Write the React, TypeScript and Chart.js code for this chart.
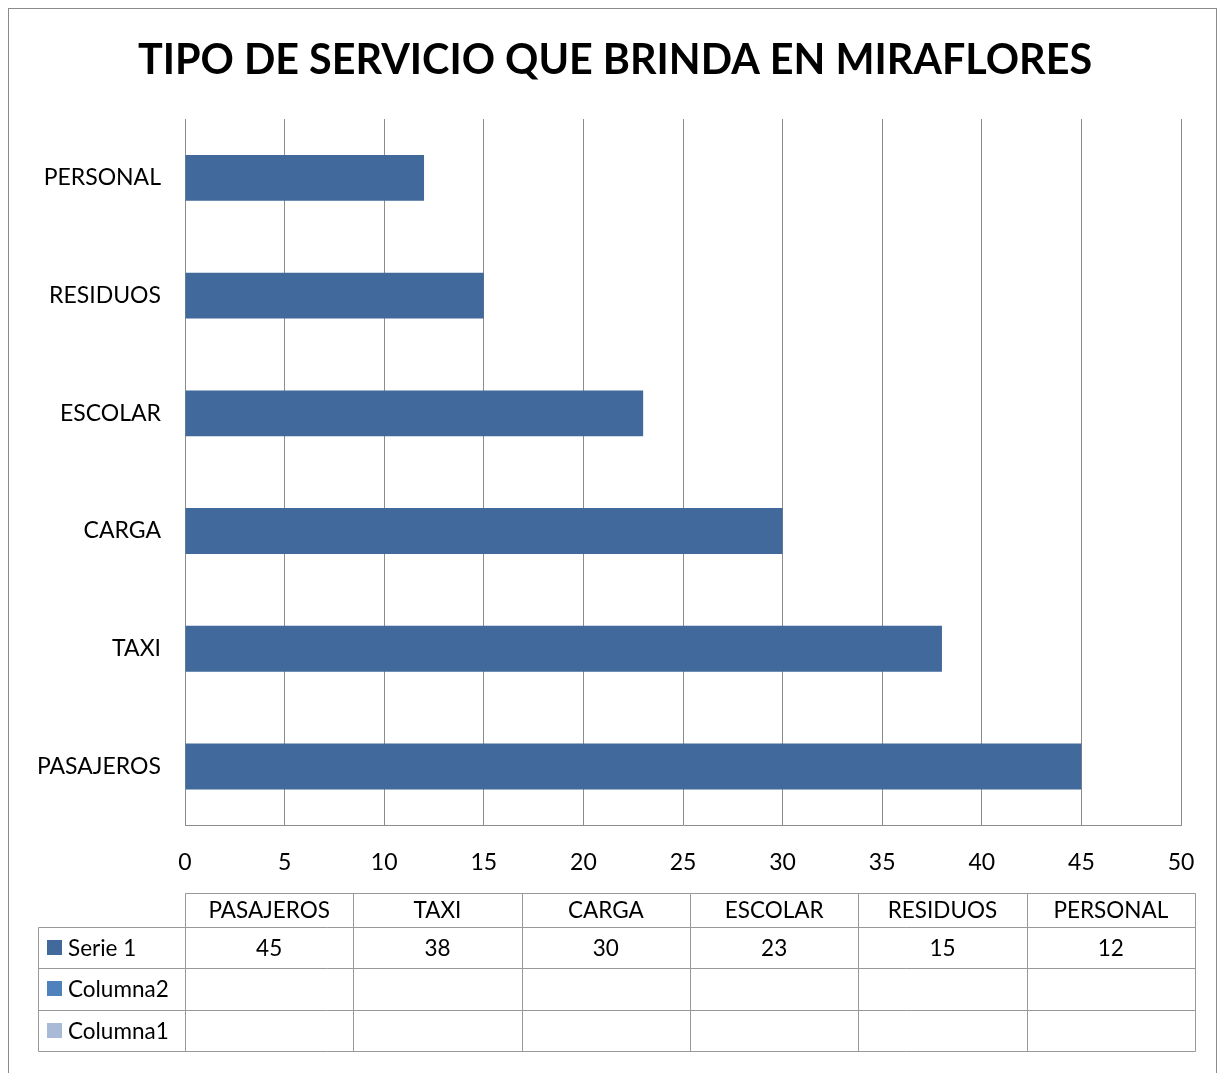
import React, { useEffect, useRef } from "react";
import { Chart, registerables } from "chart.js";

Chart.register(...registerables);

const titleText = "TIPO DE SERVICIO QUE BRINDA EN MIRAFLORES";
const categories = ["PASAJEROS", "TAXI", "CARGA", "ESCOLAR", "RESIDUOS", "PERSONAL"];
const serie1 = [45, 38, 30, 23, 15, 12];
const seriesNames = ["Serie 1", "Columna2", "Columna1"];
const seriesValues: (number | null)[][] = [serie1, [null, null, null, null, null, null], [null, null, null, null, null, null]];
const seriesColors = ["#41699B", "#4F81BD", "#A9BAD7"];
const xMin = 0;
const xMax = 50;
const xStep = 5;

const FONT = "Lato, 'Open Sans', sans-serif";
const GRID = "#8C8C8C";

const framePlugin = {
  id: "frame",
  beforeDraw(chart: any) {
    const ctx = chart.ctx;
    ctx.save();
    ctx.fillStyle = "#ffffff";
    ctx.fillRect(0, 0, chart.width, chart.height);
    ctx.strokeStyle = "#8A8A8A";
    ctx.lineWidth = 1;
    ctx.strokeRect(8.5, 8.5, 1208, 1100);
    ctx.fillStyle = "#000000";
    ctx.font = `bold 41.3px ${FONT}`;
    ctx.textAlign = "center";
    ctx.textBaseline = "middle";
    ctx.fillText(titleText, 615, 61);
    ctx.restore();
  },
};

const tablePlugin = {
  id: "dataTable",
  afterDraw(chart: any) {
    const ctx = chart.ctx;
    const left = chart.chartArea.left;
    const right = 1195;
    const legendLeft = 38;
    const top = 893;
    const headH = 34;
    const rowH = 41.3;
    const n = categories.length;
    const colW = (right - left) / n;
    const bottom = top + headH + rowH * seriesNames.length;
    ctx.save();
    ctx.strokeStyle = "#999999";
    ctx.lineWidth = 1;
    const px = (v: number) => Math.round(v) + 0.5;
    ctx.beginPath();
    ctx.moveTo(px(left), px(top));
    ctx.lineTo(px(right), px(top));
    for (let r = 0; r <= seriesNames.length; r++) {
      const y = px(top + headH + r * rowH);
      ctx.moveTo(px(legendLeft), y);
      ctx.lineTo(px(right), y);
    }
    ctx.moveTo(px(legendLeft), px(top + headH));
    ctx.lineTo(px(legendLeft), px(bottom));
    for (let c = 0; c <= n; c++) {
      const x = px(left + c * colW);
      ctx.moveTo(x, px(top));
      ctx.lineTo(x, px(bottom));
    }
    ctx.stroke();

    ctx.fillStyle = "#000000";
    ctx.font = `22.5px ${FONT}`;
    ctx.textAlign = "center";
    ctx.textBaseline = "middle";
    categories.forEach((cat, i) => {
      ctx.fillText(cat, left + (i + 0.5) * colW, top + headH / 2 + 1);
    });
    seriesNames.forEach((name, r) => {
      const yMid = top + headH + (r + 0.5) * rowH;
      ctx.fillStyle = seriesColors[r];
      ctx.fillRect(47, Math.round(yMid - 7.5), 15, 15);
      ctx.fillStyle = "#000000";
      ctx.textAlign = "left";
      ctx.fillText(name, 68, yMid + 1);
      ctx.textAlign = "center";
      seriesValues[r].forEach((v, i) => {
        if (v !== null && v !== undefined) {
          ctx.fillText(String(v), left + (i + 0.5) * colW, yMid + 1);
        }
      });
    });
    ctx.restore();
  },
};

export default function App() {
  const ref = useRef<HTMLCanvasElement | null>(null);
  useEffect(() => {
    if (!ref.current) return;
    const chart = new Chart(ref.current, {
      type: "bar",
      data: {
        labels: categories,
        datasets: [
          {
            label: seriesNames[0],
            data: serie1,
            backgroundColor: seriesColors[0],
            borderWidth: 0,
            barPercentage: 0.39,
            categoryPercentage: 1,
          },
        ],
      },
      options: {
        indexAxis: "y",
        responsive: false,
        animation: false,
        layout: { padding: { left: 0, right: 38, top: 119, bottom: 174 } },
        plugins: {
          legend: { display: false },
          tooltip: { enabled: false },
          title: { display: false },
        },
        scales: {
          x: {
            min: xMin,
            max: xMax,
            ticks: {
              stepSize: xStep,
              color: "#000000",
              font: { family: FONT, size: 23 },
              padding: 23,
            },
            grid: { color: GRID, lineWidth: 1, drawTicks: false },
            border: { display: true, color: GRID, width: 1 },
          },
          y: {
            reverse: true,
            ticks: {
              color: "#000000",
              font: { family: FONT, size: 23 },
              padding: 24,
            },
            grid: { display: false, drawTicks: false },
            border: { display: true, color: GRID, width: 1 },
            afterFit: (s: any) => {
              s.width = 185;
            },
          },
        },
      },
      plugins: [framePlugin, tablePlugin],
    });
    return () => chart.destroy();
  }, []);
  return (
    <div style={{ position: "fixed", left: 0, top: 0, width: 1219, height: 1073 }}>
      <canvas ref={ref} width={1219} height={1073} style={{ width: 1219, height: 1073, display: "block" }} />
    </div>
  );
}
